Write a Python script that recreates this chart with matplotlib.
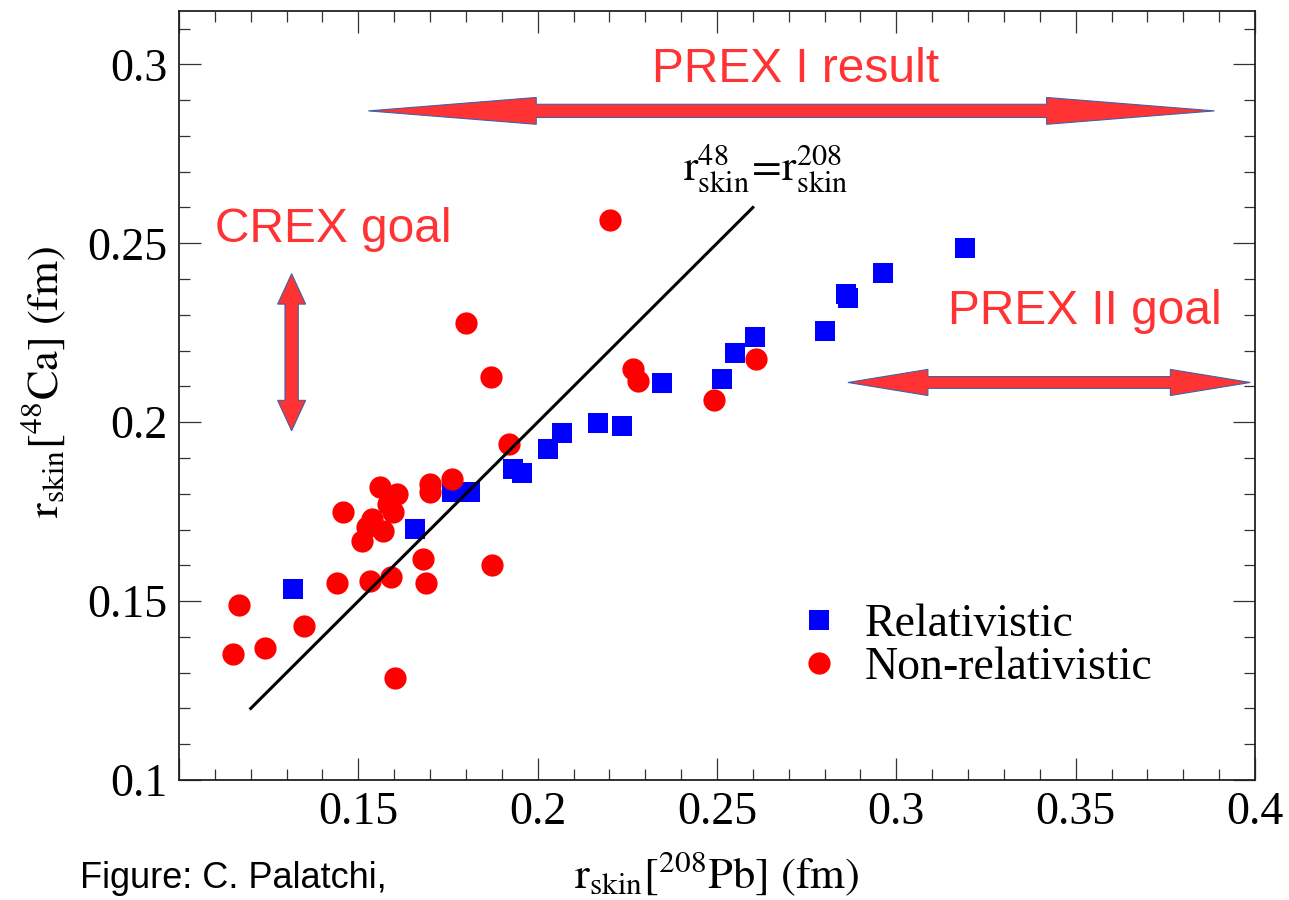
import matplotlib
matplotlib.use('Agg')
import matplotlib.pyplot as plt
from matplotlib.patches import Polygon
from matplotlib.ticker import MultipleLocator, FuncFormatter

plt.rcParams['mathtext.fontset'] = 'stix'
plt.rcParams['font.family'] = 'Liberation Serif'

# neutron skin of 208Pb vs 48Ca (fm)
rel_x = [0.1318, 0.1658, 0.1760, 0.1811, 0.1932, 0.1955, 0.2029, 0.2069, 0.2169, 0.2234,
         0.2347, 0.2515, 0.2550, 0.2605, 0.2800, 0.2861, 0.2865, 0.2963, 0.3191]
rel_y = [0.1535, 0.1702, 0.1804, 0.1804, 0.1869, 0.1857, 0.1925, 0.1971, 0.1999, 0.1990,
         0.2110, 0.2122, 0.2192, 0.2238, 0.2255, 0.2357, 0.2348, 0.2418, 0.2486]

nonrel_x = [0.1150, 0.1168, 0.1240, 0.1348, 0.1440, 0.1458, 0.1532, 0.1602, 0.1590, 0.1690,
            0.1681, 0.1874, 0.1509, 0.1560, 0.1607, 0.1597, 0.1537, 0.1523, 0.1569, 0.1582,
            0.1700, 0.1700, 0.1760, 0.1921, 0.1800, 0.1870, 0.2201, 0.2266, 0.2280, 0.2492,
            0.2610]
nonrel_y = [0.1351, 0.1490, 0.1369, 0.1430, 0.1550, 0.1748, 0.1555, 0.1285, 0.1567, 0.1550,
            0.1618, 0.1600, 0.1669, 0.1818, 0.1800, 0.1748, 0.1730, 0.1706, 0.1697, 0.1772,
            0.1827, 0.1804, 0.1841, 0.1939, 0.2278, 0.2127, 0.2566, 0.2148, 0.2116, 0.2062,
            0.2177]

equal_line = [0.12, 0.26]

RED = '#ff3333'
EDGE = '#3f62a8'

fig = plt.figure(figsize=(12.89, 9), dpi=100)
ax = fig.add_axes([179/1289, 120/900, 1076/1289, 769.3/900])

ax.plot(rel_x, rel_y, 's', color='#0000ff', ms=14.5, mew=0, label='Relativistic', zorder=3)
ax.plot(nonrel_x, nonrel_y, 'o', color='#ff0000', ms=16, mew=0, label='Non-relativistic', zorder=4)
ax.plot(equal_line, equal_line, '-', color='black', lw=2.2, zorder=5)

ax.set_xlim(0.1, 0.4)
ax.set_ylim(0.1, 0.315)

for a in (ax.xaxis, ax.yaxis):
    a.set_major_locator(MultipleLocator(0.05))
    a.set_minor_locator(MultipleLocator(0.01))
ax.xaxis.set_major_formatter(FuncFormatter(lambda v, p: '' if v < 0.11 else '%g' % round(v, 3)))
ax.yaxis.set_major_formatter(FuncFormatter(lambda v, p: '%g' % round(v, 3)))
ax.tick_params(which='both', direction='in', top=True, right=True, color='#333333', width=0.9)
ax.tick_params(which='major', length=15.8, labelsize=33, pad=8.6)
ax.tick_params(which='minor', length=7.9)
for s in ax.spines.values():
    s.set_linewidth(1.3)
    s.set_color('#222222')

ax.set_xlabel(r'$\mathrm{r}_{\mathrm{skin}}[^{208}\mathrm{Pb}]\ (\mathrm{fm})$', fontsize=32)
ax.xaxis.set_label_coords(0.5, -0.09)
ax.set_ylabel(r'$\mathrm{r}_{\mathrm{skin}}[^{48}\mathrm{Ca}]\ (\mathrm{fm})$', fontsize=32)
ax.yaxis.set_label_coords(-0.103, 0.518)

ax.text(0.2405, 0.2673, r'$\mathrm{r}_{\mathrm{skin}}^{48}\!=\!\mathrm{r}_{\mathrm{skin}}^{208}$',
        fontsize=31, ha='left', va='baseline', zorder=6)

leg = ax.legend(loc='upper left', bbox_to_anchor=(0.5734, 0.229), frameon=False, fontsize=33,
                handlelength=1.0, handletextpad=0.5, labelspacing=0.0, borderpad=0,
                borderaxespad=0, numpoints=1)


def double_arrow(x0, y0, x1, y1, head_len, head_w, shaft_w):
    # both ends pointed; widths are in data units (axes scales are nearly equal)
    dx, dy = x1 - x0, y1 - y0
    n = (dx ** 2 + dy ** 2) ** 0.5
    ux, uy = dx / n, dy / n
    px, py = -uy, ux

    def pt(t, w):
        return (x0 + ux * t + px * w, y0 + uy * t + py * w)
    pts = [pt(0, 0), pt(head_len, head_w / 2), pt(head_len, shaft_w / 2),
           pt(n - head_len, shaft_w / 2), pt(n - head_len, head_w / 2), pt(n, 0),
           pt(n - head_len, -head_w / 2), pt(n - head_len, -shaft_w / 2),
           pt(head_len, -shaft_w / 2), pt(head_len, -head_w / 2)]
    ax.add_patch(Polygon(pts, closed=True, facecolor=RED, edgecolor=EDGE, lw=0.8,
                         zorder=7, clip_on=False))


double_arrow(0.1528, 0.2870, 0.3887, 0.2870, 0.0468, 0.0075, 0.0037)
double_arrow(0.2865, 0.2111, 0.3987, 0.2111, 0.0223, 0.0073, 0.0033)
double_arrow(0.1314, 0.1976, 0.1314, 0.2415, 0.0085, 0.0078, 0.0037)

sans = 'Liberation Sans'
ax.text(0.2318, 0.2950, 'PREX I result', color=RED, fontsize=34.5, family=sans,
        ha='left', va='baseline')
ax.text(0.1100, 0.2504, 'CREX goal', color=RED, fontsize=34.5, family=sans,
        ha='left', va='baseline')
ax.text(0.3144, 0.2275, 'PREX II goal', color=RED, fontsize=34.5, family=sans,
        ha='left', va='baseline')

fig.text(80/1289, 1 - 888/900, 'Figure: C. Palatchi,', fontsize=26, family=sans,
         ha='left', va='baseline', color='black')

fig.savefig('out.png', dpi=100, facecolor='white')
